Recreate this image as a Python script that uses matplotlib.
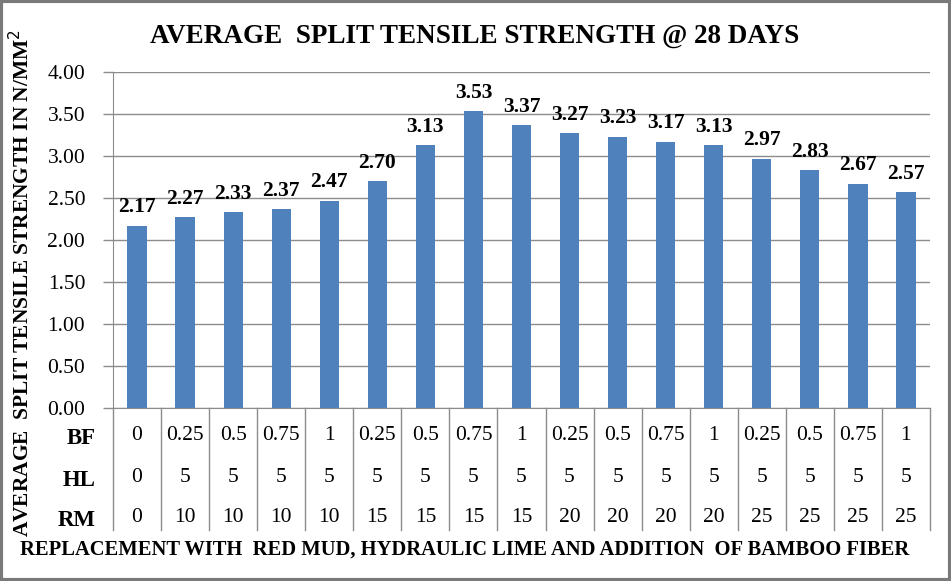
import numpy as np
import matplotlib
matplotlib.use("Agg")
import matplotlib.pyplot as plt
import matplotlib.transforms as mtransforms
from matplotlib.patches import Rectangle

strength = [2.17, 2.27, 2.33, 2.37, 2.47, 2.70, 3.13, 3.53, 3.37,
            3.27, 3.23, 3.17, 3.13, 2.97, 2.83, 2.67, 2.57]
bf = ['0', '0.25', '0.5', '0.75', '1', '0.25', '0.5', '0.75', '1',
      '0.25', '0.5', '0.75', '1', '0.25', '0.5', '0.75', '1']
hl = ['0'] + ['5'] * 16
rm = ['0', '10', '10', '10', '10', '15', '15', '15', '15',
      '20', '20', '20', '20', '25', '25', '25', '25']
row_names = ['BF', 'HL', 'RM']

plt.rcParams['font.family'] = ['Liberation Serif', 'DejaVu Serif']
grid_c = '#8c8c8c'
bar_c = '#4f81bd'

fig = plt.figure(figsize=(9.51, 5.81), dpi=100)
W, H = 951, 581
ax = fig.add_axes([113 / W, 1 - 408 / H, (930 - 113) / W, (408 - 72) / H])

x = np.arange(len(strength))
ax.bar(x, strength, width=0.4, color=bar_c, zorder=3)
for xi, v in zip(x, strength):
    ax.text(xi, v + 0.1, f'{v:.2f}', ha='center', va='bottom',
            fontsize=15.5, fontweight='bold', zorder=4)

ax.set_xlim(-0.5, len(strength) - 0.5)
ax.set_ylim(0, 4)
ax.set_yticks(np.arange(0, 4.01, 0.5))
ax.set_yticklabels([f'{t:.2f}' for t in np.arange(0, 4.01, 0.5)], fontsize=15.5)
ax.yaxis.grid(True, color=grid_c, linewidth=1)
ax.set_axisbelow(True)
ax.tick_params(axis='y', length=7, color=grid_c, width=1, pad=13)
ax.tick_params(axis='x', length=0, labelbottom=False)
for s in ['top', 'right']:
    ax.spines[s].set_visible(False)
ax.spines['left'].set_color(grid_c)
ax.spines['bottom'].set_color(grid_c)

# category table under the axis
axh = 408 - 72
trans = mtransforms.blended_transform_factory(ax.transData, ax.transAxes)
bottom = -(530 - 408) / axh
for b in np.arange(-0.5, len(strength), 1.0):
    ax.plot([b, b], [0, bottom], transform=trans, color=grid_c, lw=1,
            clip_on=False)
row_y = [-(435 - 408) / axh, -(477 - 408) / axh, -(517 - 408) / axh]
for ry, vals, name in zip(row_y, [bf, hl, rm], row_names):
    for xi, t in zip(x, vals):
        ax.text(xi, ry, t, transform=trans, ha='center', va='center',
                fontsize=15.5)
    fig.text(96 / W, 1 - (ry * -axh + 408 + 3) / H, name, ha='right',
             va='center', fontsize=16.5, fontweight='bold')

fig.text(475 / W, 1 - 36 / H, 'AVERAGE  SPLIT TENSILE STRENGTH @ 28 DAYS',
         ha='center', va='center', fontsize=19.5, fontweight='bold')
fig.text(465 / W, 1 - 550 / H,
         'REPLACEMENT WITH  RED MUD, HYDRAULIC LIME AND ADDITION  OF BAMBOO FIBER',
         ha='center', va='center', fontsize=14.8, fontweight='bold')
fig.text(22 / W, 1 - 283 / H, 'AVERAGE  SPLIT TENSILE STRENGTH IN N/MM$^2$',
         ha='center', va='center', rotation=90, fontsize=15.4,
         fontweight='bold')

fig.patches.append(Rectangle((0.0015, 0.0025), 0.997, 0.995, transform=fig.transFigure,
                             fill=False, edgecolor='#7a7a7a', linewidth=3))

fig.savefig('out.png', dpi=100)
